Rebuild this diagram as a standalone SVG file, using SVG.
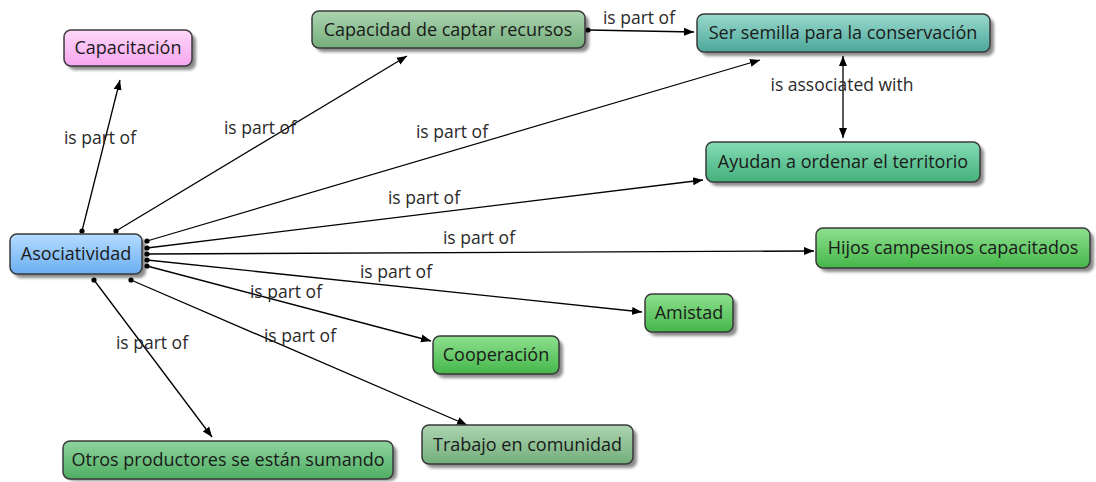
<svg xmlns="http://www.w3.org/2000/svg" width="1096" height="482" viewBox="0 0 1096 482">
<style>
  .box { stroke: #3a3a3a; stroke-width: 1.5; }
  .shadow { fill: #000; opacity: 0.45; filter: url(#blur); }
  .nt { font-family: "Open Sans", "DejaVu Sans", sans-serif; font-size: 18px; fill: #1a1a1a; text-anchor: middle; dominant-baseline: central; }
  .lt { font-family: "Open Sans", "DejaVu Sans", sans-serif; font-size: 17.5px; fill: #2a2a2a; text-anchor: middle; dominant-baseline: central; }
  .edge { stroke: #000; stroke-width: 1.3; fill: none; marker-end: url(#arr); marker-start: url(#dot); }
</style>
<defs>
  <filter id="blur" x="-10%" y="-30%" width="120%" height="160%"><feGaussianBlur stdDeviation="1.5"/></filter>
  <marker id="arr" viewBox="0 0 10 10" refX="10" refY="5" markerWidth="10" markerHeight="10" markerUnits="userSpaceOnUse" orient="auto"><path d="M0,1 L10,5 L0,9 z" fill="#000"/></marker>
  <marker id="arrs" viewBox="0 0 10 10" refX="0" refY="5" markerWidth="10" markerHeight="10" markerUnits="userSpaceOnUse" orient="auto"><path d="M10,1 L0,5 L10,9 z" fill="#000"/></marker>
  <marker id="dot" viewBox="0 0 6 6" refX="3" refY="3" markerWidth="6" markerHeight="6" markerUnits="userSpaceOnUse"><circle cx="3" cy="3" r="2.6" fill="#000"/></marker>
  <linearGradient id="gBlue" x1="0" y1="0" x2="0" y2="1"><stop offset="0" stop-color="#b5dcff"/><stop offset="1" stop-color="#6aaef2"/></linearGradient>
  <linearGradient id="gPink" x1="0" y1="0" x2="0" y2="1"><stop offset="0" stop-color="#ffd8fa"/><stop offset="1" stop-color="#f6a6ee"/></linearGradient>
  <linearGradient id="gSage" x1="0" y1="0" x2="0" y2="1"><stop offset="0" stop-color="#acd4b0"/><stop offset="1" stop-color="#74ae7c"/></linearGradient>
  <linearGradient id="gTeal" x1="0" y1="0" x2="0" y2="1"><stop offset="0" stop-color="#9ad9cd"/><stop offset="1" stop-color="#4ba89a"/></linearGradient>
  <linearGradient id="gMint" x1="0" y1="0" x2="0" y2="1"><stop offset="0" stop-color="#86dcb4"/><stop offset="1" stop-color="#43b07c"/></linearGradient>
  <linearGradient id="gGreen" x1="0" y1="0" x2="0" y2="1"><stop offset="0" stop-color="#8ee08e"/><stop offset="1" stop-color="#45b64a"/></linearGradient>
  <linearGradient id="gMid" x1="0" y1="0" x2="0" y2="1"><stop offset="0" stop-color="#8fd49e"/><stop offset="1" stop-color="#4eae62"/></linearGradient>
</defs>
<rect width="1096" height="482" fill="#fff"/>

<g id="connectors">
  <line class="edge" x1="82" y1="231" x2="120" y2="80"/>
  <line class="edge" x1="116" y1="231" x2="407" y2="56"/>
  <line class="edge" x1="147" y1="241" x2="760" y2="60"/>
  <line class="edge" x1="147" y1="248" x2="703" y2="180"/>
  <line class="edge" x1="147" y1="254" x2="814" y2="251"/>
  <line class="edge" x1="147" y1="260" x2="642" y2="312"/>
  <line class="edge" x1="147" y1="266" x2="431" y2="341"/>
  <line class="edge" x1="131" y1="280" x2="467" y2="425"/>
  <line class="edge" x1="94" y1="280" x2="212" y2="437"/>
  <line class="edge" x1="588" y1="30" x2="694" y2="32"/>
  <line x1="843" y1="56" x2="843" y2="138" stroke="#000" stroke-width="1.3" marker-start="url(#arrs)" marker-end="url(#arr)"/>
  <g id="labels">
    <text class="lt" x="100" y="137">is part of</text>
    <text class="lt" x="260" y="127">is part of</text>
    <text class="lt" x="452" y="131">is part of</text>
    <text class="lt" x="424" y="197">is part of</text>
    <text class="lt" x="479" y="237">is part of</text>
    <text class="lt" x="396" y="271">is part of</text>
    <text class="lt" x="286" y="291">is part of</text>
    <text class="lt" x="300" y="335">is part of</text>
    <text class="lt" x="152" y="342">is part of</text>
    <text class="lt" x="639" y="17">is part of</text>
    <text class="lt" x="842" y="84">is associated with</text>
  </g>
</g>

<g id="n-asociatividad">
  <rect class="shadow" x="14" y="238" width="132" height="40" rx="7"/>
  <rect class="box" x="10" y="234" width="132" height="40" rx="7" fill="url(#gBlue)"/>
  <text class="nt" x="76" y="253">Asociatividad</text>
</g>
<g id="n-capacitacion">
  <rect class="shadow" x="68" y="34" width="128" height="36" rx="7"/>
  <rect class="box" x="64" y="30" width="128" height="36" rx="7" fill="url(#gPink)"/>
  <text class="nt" x="128" y="47">Capacitación</text>
</g>
<g id="n-capacidad">
  <rect class="shadow" x="316" y="15" width="273" height="37" rx="7"/>
  <rect class="box" x="312" y="11" width="273" height="37" rx="7" fill="url(#gSage)"/>
  <text class="nt" x="448" y="28.5">Capacidad de captar recursos</text>
</g>
<g id="n-semilla">
  <rect class="shadow" x="701" y="18" width="293" height="38" rx="7"/>
  <rect class="box" x="697" y="14" width="293" height="38" rx="7" fill="url(#gTeal)"/>
  <text class="nt" x="843" y="32">Ser semilla para la conservación</text>
</g>
<g id="n-ayudan">
  <rect class="shadow" x="710" y="146" width="274" height="40" rx="7"/>
  <rect class="box" x="706" y="142" width="274" height="40" rx="7" fill="url(#gMint)"/>
  <text class="nt" x="843" y="161">Ayudan a ordenar el territorio</text>
</g>
<g id="n-hijos">
  <rect class="shadow" x="820" y="232" width="274" height="40" rx="7"/>
  <rect class="box" x="816" y="228" width="274" height="40" rx="7" fill="url(#gGreen)"/>
  <text class="nt" x="953" y="247">Hijos campesinos capacitados</text>
</g>
<g id="n-amistad">
  <rect class="shadow" x="649" y="298" width="88" height="38" rx="7"/>
  <rect class="box" x="645" y="294" width="88" height="38" rx="7" fill="url(#gGreen)"/>
  <text class="nt" x="689" y="312">Amistad</text>
</g>
<g id="n-cooperacion">
  <rect class="shadow" x="437" y="340" width="126" height="38" rx="7"/>
  <rect class="box" x="433" y="336" width="126" height="38" rx="7" fill="url(#gGreen)"/>
  <text class="nt" x="496" y="354">Cooperación</text>
</g>
<g id="n-trabajo">
  <rect class="shadow" x="426" y="429" width="211" height="39" rx="7"/>
  <rect class="box" x="422" y="425" width="211" height="39" rx="7" fill="url(#gSage)"/>
  <text class="nt" x="527.5" y="443.5">Trabajo en comunidad</text>
</g>
<g id="n-otros">
  <rect class="shadow" x="67" y="445" width="330" height="36" rx="7"/>
  <rect class="box" x="63" y="441" width="330" height="38" rx="7" fill="url(#gMid)"/>
  <text class="nt" x="228" y="459">Otros productores se están sumando</text>
</g>
</svg>
